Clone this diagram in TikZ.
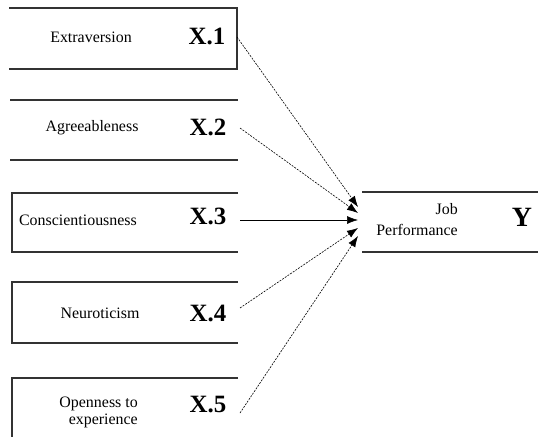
\documentclass[tikz,border=0pt]{standalone}
\usepackage{fontspec}
\setmainfont{Liberation Serif}
\usepackage{tikz}
\usetikzlibrary{arrows.meta}

\begin{document}
\begin{tikzpicture}[
  boxline/.style={line width=1.1pt,black!80},
  factor/.style={inner sep=0pt,font=\fontsize{16}{21}\selectfont},
  code/.style={inner sep=0pt,font=\fontsize{25}{26}\selectfont\bfseries},
  link/.style={-{Latex[length=11pt,width=8pt]},line width=0.6pt,dash pattern=on 2pt off 1.2pt}]

\useasboundingbox (0bp,0bp) rectangle (538bp,-437bp);

% boxes
\draw [boxline] (9bp,-8bp) -- (237bp,-8bp) -- (237bp,-69bp) -- (9bp,-69bp);
\draw [boxline] (10bp,-100bp) -- (238bp,-100bp);
\draw [boxline] (10bp,-160bp) -- (238bp,-160bp);
\draw [boxline] (238bp,-193bp) -- (12bp,-193bp) -- (12bp,-252bp) -- (238bp,-252bp);
\draw [boxline] (238bp,-282bp) -- (12bp,-282bp) -- (12bp,-343bp) -- (238bp,-343bp);
\draw [boxline] (238bp,-378bp) -- (12bp,-378bp) -- (12bp,-437bp);
\draw [boxline] (362bp,-192bp) -- (538bp,-192bp);
\draw [boxline] (362bp,-252bp) -- (538bp,-252bp);

\node (F1) at (91bp,-37bp)[factor] {Extraversion};
\node (F2) at (92bp,-128bp)[factor] {Agreeableness};
\node (F3) at (78bp,-220bp)[factor] {Conscientiousness};
\node (F4) at (100bp,-313bp)[factor] {Neuroticism};
\node (F5) at (138bp,-412bp)[factor,anchor=east,align=right,font=\fontsize{16}{17}\selectfont] {Openness to\\experience};
\node (X1) at (207bp,-36bp)[code] {X.1};
\node (X2) at (208bp,-127bp)[code] {X.2};
\node (X3) at (208bp,-216bp)[code] {X.3};
\node (X4) at (208bp,-313bp)[code] {X.4};
\node (X5) at (208bp,-405bp)[code] {X.5};
\node (JP) at (458bp,-220bp)[factor,anchor=east,align=right] {Job\\Performance};
\node (Y) at (522bp,-217bp)[code,font=\fontsize{28}{30}\selectfont\bfseries] {Y};

\coordinate (S1) at (237bp,-37bp);
\coordinate (S2) at (240bp,-128bp);
\coordinate (S3) at (240bp,-220bp);
\coordinate (S4) at (240bp,-308bp);
\coordinate (S5) at (240bp,-413bp);
\coordinate (T1) at (358bp,-207bp);
\coordinate (T2) at (358bp,-213bp);
\coordinate (T3) at (358bp,-220bp);
\coordinate (T4) at (358bp,-228bp);
\coordinate (T5) at (358bp,-236bp);

\draw [link] (S1) -- (T1);
\draw [link] (S2) -- (T2);
\draw [link,solid] (S3) -- (T3);
\draw [link] (S4) -- (T4);
\draw [link] (S5) -- (T5);
\end{tikzpicture}
\end{document}
